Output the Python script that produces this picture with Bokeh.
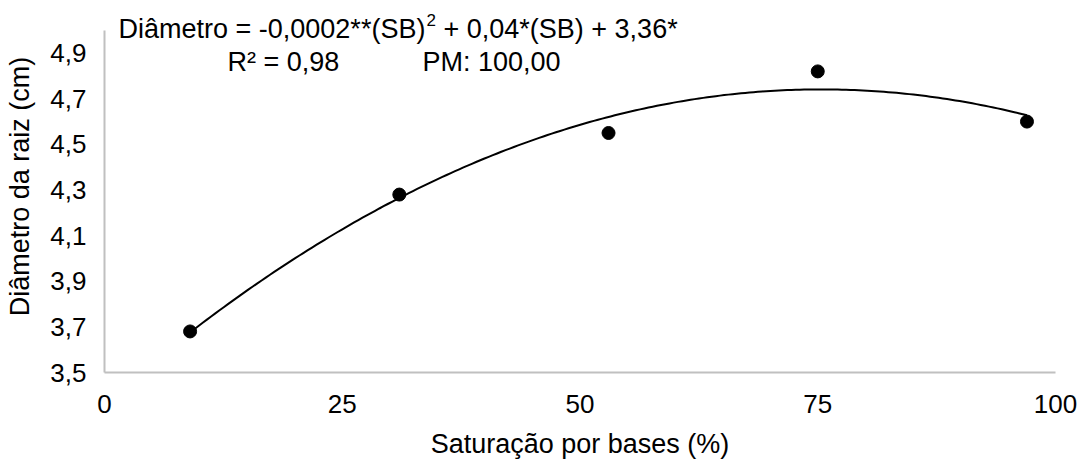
import numpy as np
from bokeh.plotting import figure
from bokeh.models import Label, FixedTicker
from bokeh.embed import file_html
from bokeh.resources import INLINE

# ---- data ----
sb_values = [9, 31, 53, 75, 97]
diam_values = [3.68, 4.28, 4.55, 4.82, 4.60]
x_ticks = [0, 25, 50, 75, 100]
y_ticks = [3.5, 3.7, 3.9, 4.1, 4.3, 4.5, 4.7, 4.9]
y_tick_labels = ["3,5", "3,7", "3,9", "4,1", "4,3", "4,5", "4,7", "4,9"]
x_title = "Saturação por bases (%)"
y_title = "Diâmetro da raiz (cm)"
eq_part1 = "Diâmetro = -0,0002**(SB)"
eq_sup = "2"
eq_part2 = "+ 0,04*(SB) + 3,36*"
r2_text = "R² = 0,98"
pm_text = "PM: 100,00"

FONT = "Liberation Sans"
W, H = 1083, 461
LEFT, RIGHT, BOTTOM = 104, 28, 87
AXIS_TOP_PX = 30          # pixel row where the y-axis (value 5.0) ends
Y_MIN, Y_AXIS_MAX = 3.5, 5.0
X_MIN, X_MAX = 0, 100

frame_h = H - BOTTOM
px_per_unit = (frame_h - AXIS_TOP_PX) / (Y_AXIS_MAX - Y_MIN)
Y_TOP = Y_MIN + frame_h / px_per_unit   # extend frame to the top so text is not clipped

p = figure(width=W, height=H, x_range=(X_MIN, X_MAX), y_range=(Y_MIN, Y_TOP),
           output_backend="svg", toolbar_location=None,
           min_border_left=LEFT, min_border_right=RIGHT,
           min_border_top=0, min_border_bottom=BOTTOM)
p.outline_line_color = None
p.xgrid.visible = False
p.ygrid.visible = False
p.background_fill_color = "white"
p.border_fill_color = "white"

for ax in (p.xaxis[0], p.yaxis[0]):
    ax.axis_line_color = "#c0c0c0"
    ax.axis_line_width = 2
    ax.major_tick_line_color = None
    ax.minor_tick_line_color = None
    ax.major_label_text_font = FONT
    ax.major_label_text_font_size = "26px"
    ax.major_label_text_color = "#000000"
    ax.axis_label_text_font = FONT
    ax.axis_label_text_font_size = "27px"
    ax.axis_label_text_font_style = "normal"
    ax.axis_label_text_color = "#000000"

p.xaxis.ticker = FixedTicker(ticks=x_ticks)
p.yaxis.ticker = FixedTicker(ticks=y_ticks)
p.yaxis.bounds = (Y_MIN, Y_AXIS_MAX)
p.yaxis.major_label_overrides = {t: l for t, l in zip(y_ticks, y_tick_labels)}
p.xaxis.axis_label = x_title
p.yaxis.axis_label = y_title
p.xaxis.major_label_standoff = 16
p.yaxis.major_label_standoff = 12
p.xaxis.axis_label_standoff = 13
p.yaxis.axis_label_standoff = 12

# trend line (quadratic regression of the data)
coef = np.polyfit(sb_values, diam_values, 2)
xs = np.linspace(min(sb_values), max(sb_values), 200)
ys = np.polyval(coef, xs)
p.line(xs, ys, line_color="black", line_width=2)

p.scatter(x=sb_values, y=diam_values, size=13, fill_color="black", line_color="black")

# annotation text, positioned in pixel space then converted to data units
fw = W - LEFT - RIGHT
def dx(px):
    return X_MIN + (px - LEFT) / fw * (X_MAX - X_MIN)
def dy(py):
    return Y_MIN + (frame_h - py) / px_per_unit

def lab(txt, px, py, size):
    p.add_layout(Label(x=dx(px), y=dy(py), text=txt, text_font=FONT,
                       text_font_size=size, text_color="black",
                       text_baseline="alphabetic", text_align="left"))

lab(eq_part1, 118, 29, "27px")
lab(eq_sup, 426, 20, "17px")
lab(eq_part2, 443, 29, "27px")
lab(r2_text, 227, 62, "27px")
lab(pm_text, 422, 62, "27px")

open("out.html", "w").write(file_html(p, INLINE))
